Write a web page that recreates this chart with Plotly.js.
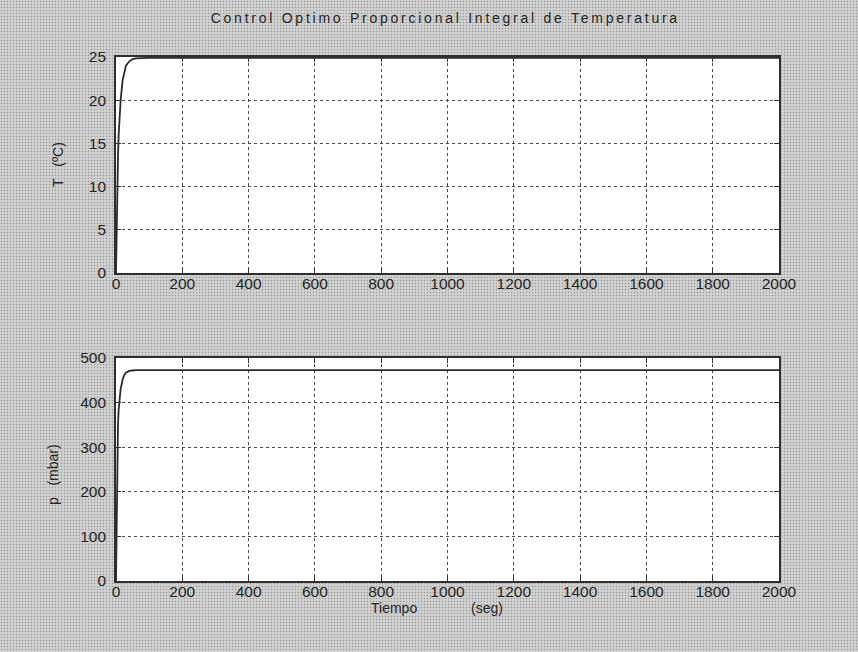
<!DOCTYPE html>
<html>
<head>
<meta charset="utf-8">
<script src="https://cdn.plot.ly/plotly-3.0.1.min.js"></script>
<style>
  html, body { margin: 0; padding: 0; }
  body {
    width: 858px; height: 652px; overflow: hidden;
    background-color: #c9c9c9;
    background-image:
      radial-gradient(circle, #9a9a9a 0.8px, transparent 1px),
      radial-gradient(circle, #e4e4e4 0.8px, transparent 1px);
    background-size: 3px 3px, 3px 3px;
    background-position: 0 0, 1.5px 1.5px;
  }
  #chart { width: 858px; height: 652px; }
  /* the figure title is set with wide letter spacing */
  #chart .gtitle { letter-spacing: 2.75px; }
</style>
</head>
<body>
<div id="chart"></div>
<script>
// Time axis (s) shared by both responses
const tiempo = [0, 2, 4, 6, 8, 10, 14, 20, 25, 30, 40, 50, 60, 80, 100, 200, 400, 600, 800, 1000, 1200, 1400, 1600, 1800, 2000];

// Temperature response T (°C)
const temperatura = [0, 6, 10.5, 13.5, 16, 17.5, 20, 22.3, 23.4, 24, 24.5, 24.75, 24.85, 24.9, 24.9, 24.9, 24.9, 24.9, 24.9, 24.9, 24.9, 24.9, 24.9, 24.9, 24.9];

// Pressure response p (mbar)
const presion = [0, 180, 300, 350, 385, 405, 430, 452, 462, 467, 471, 472, 473, 473, 473, 473, 473, 473, 473, 473, 473, 473, 473, 473, 473];

// Tick values
const xTicks = [0, 200, 400, 600, 800, 1000, 1200, 1400, 1600, 1800, 2000];
const tTicks = [0, 5, 10, 15, 20, 25];
const pTicks = [0, 100, 200, 300, 400, 500];

// Titles
const tituloFigura = 'Control Optimo Proporcional Integral de Temperatura';
const etiquetaT = 'T&nbsp;&nbsp;&nbsp;(ºC)';
const etiquetaP = 'p&nbsp;&nbsp;&nbsp;(mbar)';

const fam = 'Liberation Sans, Arial, sans-serif';
const tickFont = { family: fam, size: 15.5, color: '#262626' };
const labelFont = { family: fam, size: 14, color: '#262626' };

function xAxis(anchor) {
  return {
    domain: [0.1352, 0.9079], anchor: anchor,
    range: [0, 2000], tickvals: xTicks, ticktext: xTicks.map(String),
    ticks: 'inside', ticklen: 5, tickcolor: '#333', tickwidth: 1,
    showline: true, linecolor: '#2e2e2e', linewidth: 1.8, mirror: 'ticks',
    showgrid: true, gridcolor: '#4a4a4a', griddash: '3px,3px', gridwidth: 1,
    zeroline: false, tickfont: tickFont, ticklabelstandoff: -4, automargin: false
  };
}
function yAxis(anchor, domain, range, ticks) {
  return {
    domain: domain, anchor: anchor,
    range: range, tickvals: ticks, ticktext: ticks.map(String),
    ticks: 'inside', ticklen: 5, tickcolor: '#333', tickwidth: 1,
    showline: true, linecolor: '#2e2e2e', linewidth: 1.8, mirror: 'ticks',
    showgrid: true, gridcolor: '#4a4a4a', griddash: '3px,3px', gridwidth: 1,
    zeroline: false, tickfont: tickFont, ticklabelstandoff: 5, automargin: false
  };
}

const traces = [
  { x: tiempo, y: temperatura, xaxis: 'x', yaxis: 'y', mode: 'lines', line: { color: '#2b2b2b', width: 1.8 }, hoverinfo: 'skip' },
  { x: tiempo, y: presion, xaxis: 'x2', yaxis: 'y2', mode: 'lines', line: { color: '#2b2b2b', width: 1.8 }, hoverinfo: 'skip' }
];

const layout = {
  width: 858, height: 652,
  margin: { l: 0, r: 0, t: 0, b: 0 },
  paper_bgcolor: 'rgba(0,0,0,0)',
  plot_bgcolor: '#ffffff',
  showlegend: false,
  title: { text: tituloFigura, font: labelFont, x: 0.519, xanchor: 'center', y: 0.972, yanchor: 'middle' },
  xaxis: xAxis('y'),
  yaxis: yAxis('x', [0.5813, 0.9126], [0, 25], tTicks),
  xaxis2: xAxis('y2'),
  yaxis2: yAxis('x2', [0.1089, 0.4509], [0, 500], pTicks),
  annotations: [
    { text: etiquetaT, xref: 'paper', yref: 'paper', x: 0.0676, y: 0.747, textangle: -90, showarrow: false, font: labelFont, xanchor: 'center', yanchor: 'middle' },
    { text: etiquetaP, xref: 'paper', yref: 'paper', x: 0.0618, y: 0.2715, textangle: -90, showarrow: false, font: labelFont, xanchor: 'center', yanchor: 'middle' },
    { text: 'Tiempo', xref: 'paper', yref: 'paper', x: 0.4592, y: 0.0675, showarrow: false, font: labelFont, xanchor: 'center', yanchor: 'middle' },
    { text: '(seg)', xref: 'paper', yref: 'paper', x: 0.5676, y: 0.0675, showarrow: false, font: labelFont, xanchor: 'center', yanchor: 'middle' }
  ]
};

Plotly.newPlot('chart', traces, layout, { staticPlot: true, displayModeBar: false });
</script>
</body>
</html>
